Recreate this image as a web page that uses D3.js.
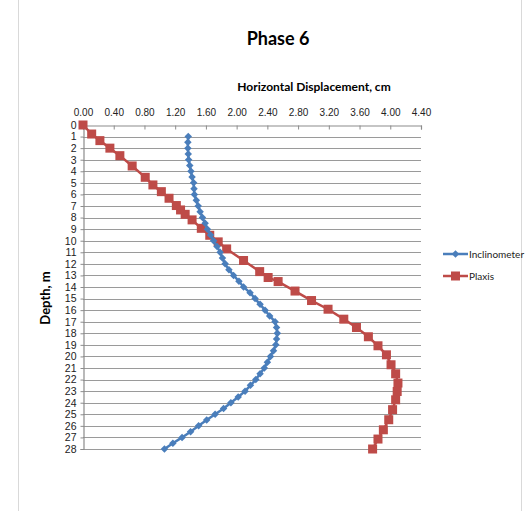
<!DOCTYPE html>
<html>
<head>
<meta charset="utf-8">
<script src="https://cdn.jsdelivr.net/npm/d3@7"></script>
<style>
  html, body { margin: 0; padding: 0; background: #fff; }
  svg { display: block; font-family: Lato, "Open Sans", sans-serif; }
</style>
</head>
<body>
<svg id="chart" width="530" height="511"></svg>
<script>
// Inclinometer readings (depth in m, displacement in cm)
const inclinometerDepth = [1, 1.5, 2, 2.5, 3, 3.5, 4, 4.5, 5, 5.5, 6, 6.5, 7, 7.5, 8, 8.5, 9, 9.5, 10, 10.5,
  11, 11.5, 12, 12.5, 13, 13.5, 14, 14.5, 15, 15.5, 16, 16.5, 17, 17.5, 18, 18.5, 19, 19.5, 20, 20.5,
  21, 21.5, 22, 22.5, 23, 23.5, 24, 24.5, 25, 25.5, 26, 26.5, 27, 27.5, 28];
const inclinometerDisp = [1.37, 1.365, 1.365, 1.37, 1.375, 1.39, 1.405, 1.42, 1.44, 1.445, 1.45, 1.475, 1.50, 1.525, 1.555, 1.59, 1.62, 1.66, 1.70, 1.745,
  1.785, 1.815, 1.85, 1.90, 1.96, 2.03, 2.09, 2.175, 2.24, 2.305, 2.37, 2.43, 2.50, 2.52, 2.53, 2.52, 2.51, 2.48, 2.44, 2.40,
  2.36, 2.305, 2.25, 2.18, 2.11, 2.02, 1.925, 1.83, 1.72, 1.61, 1.505, 1.40, 1.29, 1.17, 1.06];

// Plaxis model output (depth in m, displacement in cm)
const plaxisDepth = [0, 0.78, 1.35, 2.0, 2.65, 3.54, 4.52, 5.18, 5.76, 6.33, 6.96, 7.34, 7.72, 8.2, 8.93, 9.53, 10.1, 10.71, 11.71, 12.67,
  13.18, 13.53, 14.35, 15.17, 15.92, 16.78, 17.5, 18.3, 19.08, 19.86, 20.72, 21.5, 22.3, 23.03, 23.75, 24.6, 25.47, 26.34, 27.14, 28];
const plaxisDisp = [0, 0.113, 0.22, 0.35, 0.48, 0.64, 0.81, 0.91, 1.02, 1.12, 1.215, 1.27, 1.33, 1.42, 1.54, 1.65, 1.76, 1.87, 2.09, 2.30,
  2.41, 2.54, 2.76, 2.975, 3.19, 3.395, 3.56, 3.715, 3.84, 3.95, 4.01, 4.07, 4.10, 4.09, 4.07, 4.03, 3.98, 3.91, 3.84, 3.77];

const xTicks = [0, 0.4, 0.8, 1.2, 1.6, 2.0, 2.4, 2.8, 3.2, 3.6, 4.0, 4.4];
const yTicks = [0, 1, 2, 3, 4, 5, 6, 7, 8, 9, 10, 11, 12, 13, 14, 15, 16, 17, 18, 19, 20, 21, 22, 23, 24, 25, 26, 27, 28];

const seriesNames = ["Inclinometer", "Plaxis"];
const seriesColors = ["#4a7ebb", "#be4b48"];

const svg = d3.select("#chart");
const W = 530, H = 511;

// chart frame edges
svg.append("line").attr("x1", 18.5).attr("x2", 18.5).attr("y1", 0).attr("y2", H)
  .attr("stroke", "#d9d9d9");
svg.append("line").attr("x1", 521.5).attr("x2", 521.5).attr("y1", 0).attr("y2", H)
  .attr("stroke", "#d9d9d9");

const x = d3.scaleLinear().domain([0, 4.4]).range([83, 421]);
const y = d3.scaleLinear().domain([0, 28]).range([125, 449]);

// horizontal gridlines
svg.append("g").selectAll("line").data(yTicks.slice(1)).join("line")
  .attr("x1", x(0)).attr("x2", x(4.4))
  .attr("y1", d => Math.round(y(d)) + 0.5).attr("y2", d => Math.round(y(d)) + 0.5)
  .attr("stroke", "#9a9a9a").attr("stroke-width", 1.2);

// top axis
const xAxis = d3.axisTop(x).tickValues(xTicks).tickFormat(d3.format(".2f")).tickSize(-4).tickPadding(10);
const gx = svg.append("g").attr("transform", `translate(0,${Math.round(y(0)) + 0.5})`).call(xAxis);
gx.select(".domain").attr("stroke", "#8c8c8c").attr("stroke-width", 1.2);
gx.selectAll(".tick line").attr("stroke", "#8c8c8c");
gx.selectAll("text").attr("font-size", 10).attr("fill", "#222");

// left axis
const yAxis = d3.axisLeft(y).tickValues(yTicks).tickFormat(d3.format("d")).tickSize(3).tickPadding(4);
const gy = svg.append("g").attr("transform", `translate(${Math.round(x(0)) + 0.5},0)`).call(yAxis);
gy.select(".domain").attr("stroke", "#8c8c8c").attr("stroke-width", 1.2);
gy.selectAll(".tick line").attr("stroke", "#8c8c8c");
gy.selectAll("text").attr("font-size", 10.5).attr("fill", "#222");

// titles
svg.append("text").attr("x", 278).attr("y", 45).attr("text-anchor", "middle")
  .attr("font-size", 18).attr("font-weight", "bold").attr("fill", "#000").text("Phase 6");
svg.append("text").attr("x", 314).attr("y", 91).attr("text-anchor", "middle")
  .attr("font-size", 12).attr("font-weight", "bold").attr("fill", "#000").text("Horizontal Displacement, cm");
svg.append("text").attr("transform", "translate(50,298) rotate(-90)").attr("text-anchor", "middle")
  .attr("font-size", 13).attr("font-weight", "bold").attr("fill", "#000").text("Depth, m");

const line = d3.line().x(d => x(d[1])).y(d => y(d[0]));

const inclPts = d3.zip(inclinometerDepth, inclinometerDisp);
const plaxPts = d3.zip(plaxisDepth, plaxisDisp);

// Plaxis series
svg.append("path").datum(plaxPts).attr("d", line)
  .attr("fill", "none").attr("stroke", seriesColors[1]).attr("stroke-width", 2.5);
svg.append("g").selectAll("rect").data(plaxPts).join("rect")
  .attr("x", d => x(d[1]) - 4.5).attr("y", d => y(d[0]) - 4.5)
  .attr("width", 9).attr("height", 9).attr("fill", seriesColors[1]);

// Inclinometer series
svg.append("path").datum(inclPts).attr("d", line)
  .attr("fill", "none").attr("stroke", seriesColors[0]).attr("stroke-width", 2.5);
const diamond = d3.symbol().type(d3.symbolDiamond2).size(36);
svg.append("g").selectAll("path").data(inclPts).join("path")
  .attr("transform", d => `translate(${x(d[1])},${y(d[0])})`)
  .attr("d", diamond).attr("fill", seriesColors[0]);

// legend
const legend = svg.append("g");
seriesNames.forEach((name, i) => {
  const ly = 254 + i * 22;
  legend.append("line").attr("x1", 443).attr("x2", 468).attr("y1", ly).attr("y2", ly)
    .attr("stroke", seriesColors[i]).attr("stroke-width", 2.5);
  if (i === 0) {
    legend.append("path").attr("transform", `translate(455.5,${ly})`)
      .attr("d", diamond).attr("fill", seriesColors[i]);
  } else {
    legend.append("rect").attr("x", 451).attr("y", ly - 4.5).attr("width", 9).attr("height", 9)
      .attr("fill", seriesColors[i]);
  }
  legend.append("text").attr("x", 469).attr("y", ly + 3.5).attr("font-size", 10)
    .attr("fill", "#222").text(name);
});
</script>
</body>
</html>
